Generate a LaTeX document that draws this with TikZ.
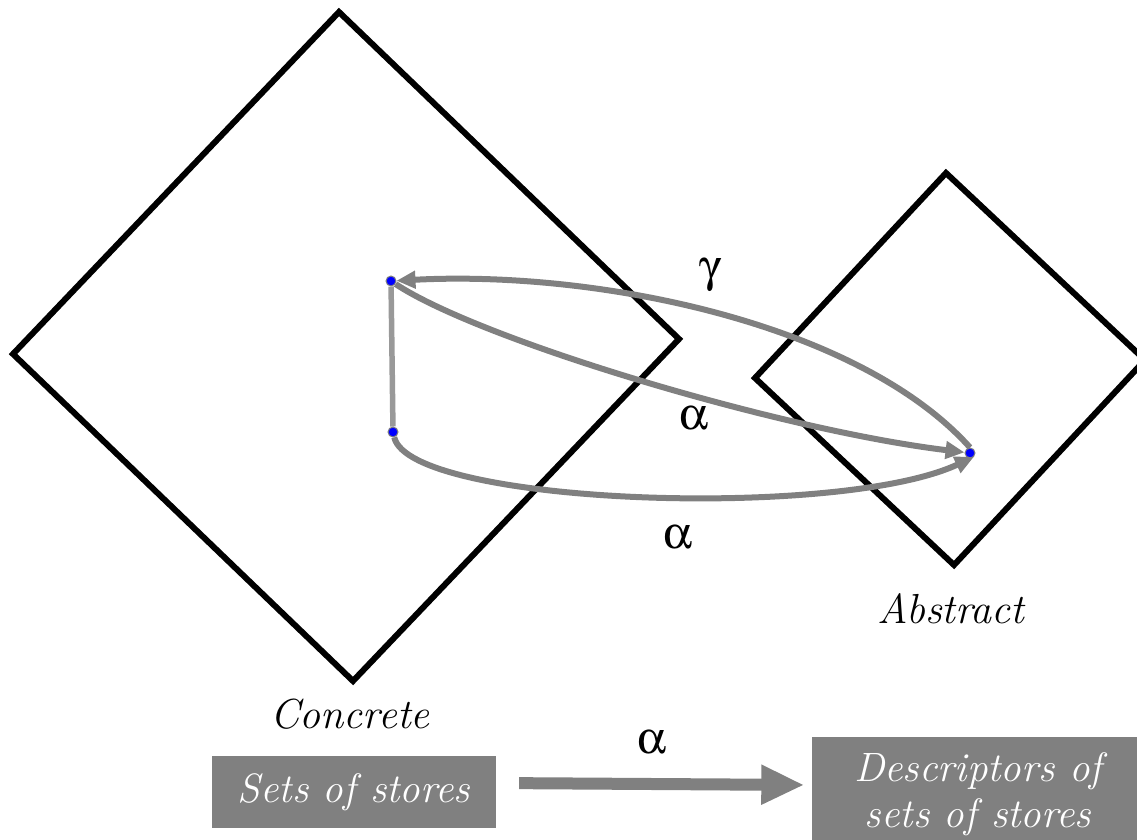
\documentclass[tikz,border=0pt]{standalone}
\usepackage[Symbol]{upgreek}
\usepackage{tikz}
\usetikzlibrary{arrows.meta, positioning}

\definecolor{arrowgray}{HTML}{808080}
\definecolor{linkgray}{HTML}{999999}

\tikzset{
    frame/.style={draw=black, line width=6pt, line join=miter},
    pt/.style={circle, fill=blue, draw=arrowgray, line width=1pt, inner sep=0pt, minimum size=10pt},
    maparrow/.style={draw=arrowgray, line width=6pt, -{Triangle[length=19pt,width=17pt]}},
    greek/.style={font=\fontsize{46}{50}\selectfont},
    caption/.style={font=\fontsize{42}{46}\selectfont\itshape, anchor=base},
    storebox/.style={fill=arrowgray, text=white, align=center, inner sep=0pt,
        font=\fontsize{41}{46}\selectfont\itshape}
}

\begin{document}
\begin{tikzpicture}[x=1pt,y=-1pt]
            \clip (0,0) rectangle (1137,839);

            % domains
            \draw[frame] (339,12) -- (679,339) -- (353,681) -- (13,354) -- cycle;
            \draw[frame] (946,173) -- (1145,360) -- (954,565) -- (755,378) -- cycle;
            \node[caption] (concrete) at (350,728) {Concrete};
            \node[caption] (abstract) at (951,623) {Abstract};

            % elements
            \node[pt] (c1) at (391,281) {};
            \node[pt] (c2) at (393,432) {};
            \node[pt] (a1) at (970,453) {};

            % maps
            \draw[linkgray, line width=5.5pt] (c1) -- (c2);
            \draw[maparrow] (a1.north) .. controls +(-110,-123) and +(209,-11) .. (c1);
            \draw[maparrow] (c1) .. controls +(89,59) and +(-190,-23) .. (a1);
            \draw[maparrow] (c2) .. controls +(17,73) and +(-135,63) .. (a1.south east);
            \node[greek] (gam) at (711,275) {$\upgamma$};
            \node[greek] (alpup) at (694,418) {$\upalpha$};
            \node[greek] (alplow) at (678,537) {$\upalpha$};

            % legend
            \node[storebox, minimum width=284pt, minimum height=72pt] (sets) at (354,792) {Sets of stores};
            \node[storebox, minimum width=333pt, minimum height=114pt] (desc) at (978,794)
                {Descriptors of\\sets of stores};
            \draw[arrowgray, line width=12pt, -{Triangle[length=43pt,width=37pt]},
                shorten <=23pt, shorten >=7pt] ([yshift=9pt]sets.east) -- ([yshift=9pt]desc.west);
            \node[greek] (alpkey) at (652,742) {$\upalpha$};
        \end{tikzpicture}
\end{document}
